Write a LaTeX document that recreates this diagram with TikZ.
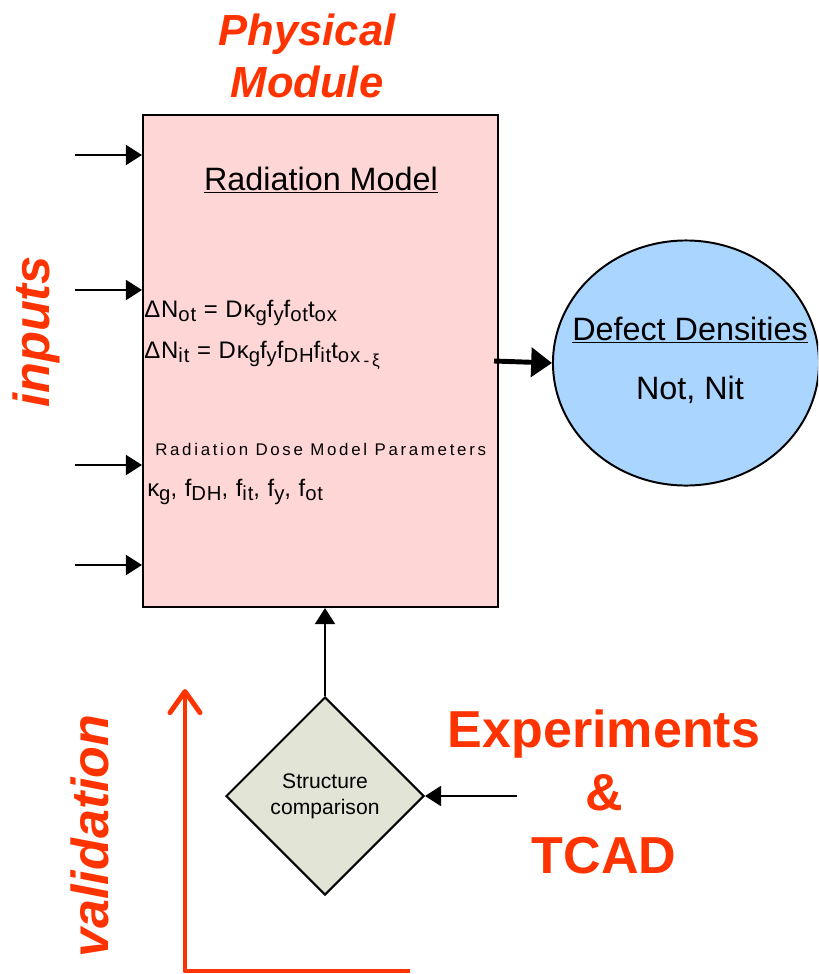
\documentclass[tikz,border=0pt]{standalone}
\usepackage{fontspec}
\setmainfont{Liberation Sans}
\usepackage{graphicx}
\usetikzlibrary{positioning,shapes.geometric,arrows.meta}

\definecolor{redtxt}{RGB}{255,51,0}
\definecolor{boxpink}{RGB}{255,214,214}
\definecolor{densblue}{RGB}{170,213,255}
\definecolor{cmpgrey}{RGB}{226,229,213}

% lowered index in text font
\newcommand{\lo}[1]{\raisebox{-0.35ex}{\scalebox{0.85}{#1}}}

\tikzstyle{model}=[rectangle, draw, line width=1.4pt, fill=boxpink, minimum width=8.875cm, minimum height=12.3cm]
\tikzstyle{density}=[ellipse, draw, line width=1.4pt, fill=densblue, inner sep=0pt, minimum width=6.65cm, minimum height=6.125cm]
\tikzstyle{compare}=[diamond, draw, line width=1.4pt, fill=cmpgrey, minimum width=4.95cm, minimum height=4.95cm, inner sep=0pt, font=\fontsize{15}{18.5}\selectfont]
\tikzstyle{formula}=[anchor=west, inner sep=0pt, font=\fontsize{17}{17}\selectfont\addfontfeature{LetterSpace=4}]
\tikzstyle{label}=[font=\fontsize{23}{23}\selectfont]
\tikzstyle{bigred}=[text=redtxt, font=\fontsize{37}{45}\selectfont\bfseries]
\tikzstyle{feed}=[-{Triangle[length=0.4cm,width=0.5cm]}, line width=1.2pt]

\begin{document}
\begin{tikzpicture}[x=0.025cm, y=-0.025cm, every node/.style={align=center}]
\useasboundingbox (0,0) rectangle (818,974);
\clip (0,0) rectangle (818,974);

% Nodes
\node (model) [model] at (320.5,361) {};
\node (title) [label] at (321,180) {\underline{Radiation Model}};
\node (eqot) [formula] at (144,313) {ΔN\lo{ot} = Dκ\lo{g}f\lo{y}f\lo{ot}t\lo{ox}};
\node (eqit) [formula] at (144,355) {ΔN\lo{it} = Dκ\lo{g}f\lo{y}f\lo{DH}f\lo{it}t\lo{ox\,\lo{-\,ξ}}};
\node (params) [anchor=west, inner sep=0pt, font=\fontsize{12}{12}\selectfont\addfontfeature{LetterSpace=16}] at (155,449) {Radiation Dose Model Parameters};
\node (coeffs) [formula] at (147,492) {κ\lo{g}, f\lo{DH}, f\lo{it}, f\lo{y}, f\lo{ot}};

\node (defects) [density] at (686,363) {};
\node (denstitle) [label] at (690,330) {\underline{Defect Densities}};
\node (densvals) [label] at (690,390) {Not, Nit};
\node (compare) [compare] at (325,796) {Structure\\comparison};

\node (physical) [text=redtxt, font=\fontsize{31}{37}\selectfont\bfseries\itshape] at (307,56) {Physical\\Module};
\node (inputs) [bigred, font=\fontsize{36}{45}\selectfont\bfseries\itshape, rotate=90] at (36,332) {inputs};
\node (validation) [bigred, font=\fontsize{37}{45}\selectfont\bfseries\itshape, rotate=90] at (90,836) {validation};
\node (experiments) [bigred] at (604,792) {Experiments\\\&\\TCAD};

% Free ends
\coordinate (in1) at (75,155);
\coordinate (in2) at (75,290);
\coordinate (in3) at (75,465);
\coordinate (in4) at (75,565);
\coordinate (source) at (517,796);
\coordinate (vtip) at (185,689);
\coordinate (vcorner) at (185,971);
\coordinate (vend) at (410,971);

% Arrows
\foreach \i in {1,...,4}
  \draw[feed] (in\i) -- (in\i -| model.west);
\draw[-{Triangle[length=0.52cm,width=0.72cm]}, line width=3.5pt] ([xshift=-0.125cm]model.east) -- (defects.west);
\draw[feed] (compare.north) -- (compare.north |- model.south);
\draw[feed] (source) -- (compare.east);
\draw[redtxt, line width=3.5pt, line join=round, -{Straight Barb[length=0.53cm,width=0.75cm,round]}] (vend) -- (vcorner) -- (vtip);
\end{tikzpicture}
\end{document}
